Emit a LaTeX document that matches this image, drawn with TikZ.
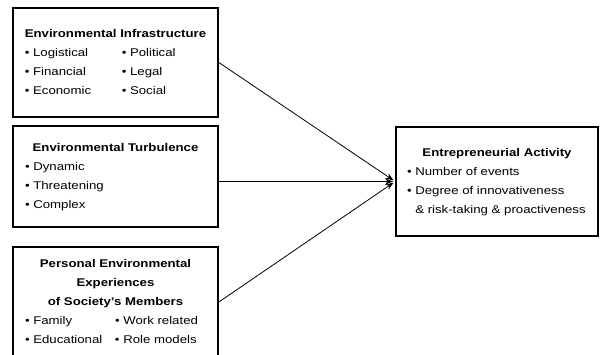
\documentclass[tikz,border=0pt]{standalone}
\usepackage{fontspec}
\setmainfont{Liberation Sans}[FakeStretch=1.18]
\usepackage{tikz}
\usetikzlibrary{positioning,arrows}
\usetikzlibrary{arrows.meta}
\usepackage{array}

\newcommand{\itm}{\textbullet\ }

\begin{document}
\begin{tikzpicture}[x=1pt,y=-1pt]
	\tikzstyle{every node}=[font=\fontsize{11.2}{19}\selectfont]
	\tikzstyle{box}=[draw, rectangle, line width=1.7pt, inner sep=0pt, minimum width=205pt]
  \useasboundingbox (0,0) rectangle (602,354);
  % \draw [step=10,blue, very thin] (0,0) grid (602,354);
  \node [box, minimum height=109pt] (infra) at (115.5,62.5) {%
    \begin{tabular}{@{}p{97pt}@{}p{84pt}@{}}
    \multicolumn{2}{@{}c@{}}{\bfseries Environmental Infrastructure}\\
    \itm Logistical & \itm Political\\
    \itm Financial & \itm Legal\\
    \itm Economic & \itm Social
    \end{tabular}};
  \node [box, minimum height=101pt] (turb) at (115.5,176.5) {%
    \begin{tabular}{@{}p{181pt}@{}}
    \multicolumn{1}{@{}c@{}}{\bfseries Environmental Turbulence}\\
    \itm Dynamic\\
    \itm Threatening\\
    \itm Complex
    \end{tabular}};
  \node [box, minimum height=110pt] (pers) at (115.5,302) {%
    \begin{tabular}{@{}p{90pt}@{}p{91pt}@{}}
    \multicolumn{2}{@{}c@{}}{\bfseries Personal Environmental}\\
    \multicolumn{2}{@{}c@{}}{\bfseries Experiences}\\
    \multicolumn{2}{@{}c@{}}{\bfseries of Society’s Members}\\
    \itm Family & \itm Work related\\
    \itm Educational & \itm Role models
    \end{tabular}};
  \node [box, minimum width=202pt, minimum height=109pt] (act) at (497,181.5) {%
    \begin{tabular}{@{}p{180pt}@{}}
    \multicolumn{1}{@{}c@{}}{\bfseries Entrepreneurial Activity}\\
    \itm Number of events\\
    \itm Degree of innovativeness\\
    \phantom{\itm}\& risk-taking \& proactiveness
    \end{tabular}};

  \draw [-{Stealth[length=8pt,width=6pt]}, line width=0.8pt, shorten >=2pt] (infra.east) -- (act.west);
  \draw [-{Stealth[length=8pt,width=6pt]}, line width=0.8pt, shorten >=2pt] (turb.east |- act.west) -- (act.west);
  \draw [-{Stealth[length=8pt,width=6pt]}, line width=0.8pt, shorten >=2pt] (pers.east) -- (act.west);
\end{tikzpicture}
\end{document}
